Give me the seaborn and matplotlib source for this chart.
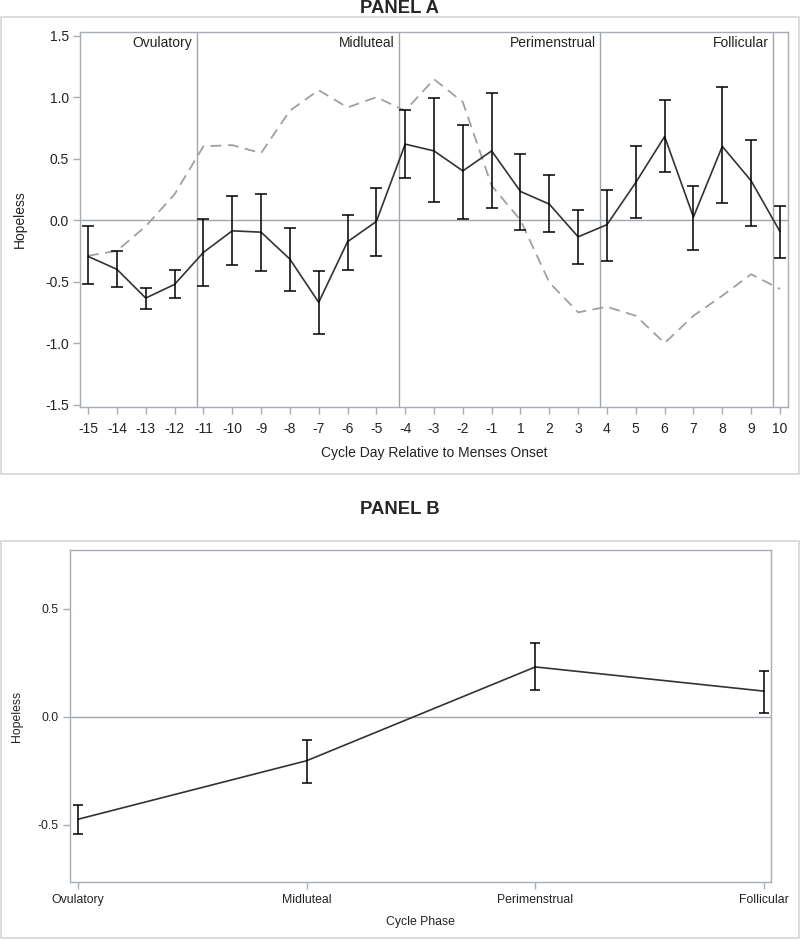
import matplotlib
matplotlib.use("Agg")
import matplotlib.pyplot as plt
import seaborn as sns
import pandas as pd
from matplotlib.patches import Rectangle

sns.set_style("white")
plt.rcParams['font.family'] = ['Liberation Sans', 'DejaVu Sans']

# ---------------- data ----------------
days = [-15, -14, -13, -12, -11, -10, -9, -8, -7, -6, -5, -4, -3, -2, -1,
        1, 2, 3, 4, 5, 6, 7, 8, 9, 10]
mean_a = [-0.295, -0.40, -0.634, -0.523, -0.263, -0.087, -0.098, -0.317, -0.669, -0.176, -0.011,
          0.618, 0.563, 0.40, 0.563, 0.233, 0.13, -0.136, -0.037, 0.306, 0.68, 0.025, 0.60, 0.32, -0.092]
upper_a = [-0.05, -0.255, -0.555, -0.407, 0.008, 0.193, 0.211, -0.065, -0.417, 0.043, 0.26,
           0.894, 0.992, 0.77, 1.03, 0.537, 0.366, 0.084, 0.246, 0.599, 0.976, 0.276, 1.079, 0.653, 0.114]
lower_a = [-0.52, -0.54, -0.726, -0.637, -0.534, -0.368, -0.417, -0.58, -0.93, -0.407, -0.293,
           0.339, 0.144, 0.008, 0.095, -0.079, -0.098, -0.358, -0.33, 0.016, 0.393, -0.244, 0.136, -0.049, -0.311]
dashed_a = [-0.29, -0.25, -0.05, 0.21, 0.60, 0.61, 0.545, 0.89, 1.057, 0.916, 1.0,
            0.89, 1.146, 0.96, 0.28, 0.0, -0.507, -0.75, -0.705, -0.778, -1.0, -0.778, -0.615, -0.44, -0.56]
phase_names = ["Ovulatory", "Midluteal", "Perimenstrual", "Follicular"]
phase_start_days = [-11, -4, 4, 10]   # vertical separators drawn just before these days

phases_b = ["Ovulatory", "Midluteal", "Perimenstrual", "Follicular"]
mean_b = [-0.474, -0.203, 0.231, 0.119]
upper_b = [-0.409, -0.108, 0.343, 0.214]
lower_b = [-0.543, -0.308, 0.125, 0.020]

# ---------------- figure ----------------
fig = plt.figure(figsize=(8, 9.4), dpi=100)
W, H = 800, 940

def fbox(x0, y0, x1, y1):
    return [x0 / W, 1 - y1 / H, (x1 - x0) / W, (y1 - y0) / H]

spine_col = "#a7adb4"
ref_col = "#a0a6ad"
border_col = "#d6d6d6"

# outer borders
for (x0, y0, x1, y1) in [(1, 17, 799, 474), (1, 541, 799, 938)]:
    fig.patches.append(Rectangle((x0 / W, 1 - y1 / H), (x1 - x0) / W, (y1 - y0) / H,
                                 transform=fig.transFigure, fill=False,
                                 edgecolor=border_col, linewidth=1.2))

# ---------------- Panel A ----------------
axA = fig.add_axes(fbox(80, 32, 788, 407))
dfA = pd.DataFrame({"pos": range(len(days)), "mean": mean_a, "dash": dashed_a,
                    "lo": lower_a, "hi": upper_a})

for d in phase_start_days:
    axA.axvline(days.index(d) - 0.23, color=ref_col, lw=1.0, zorder=1)
axA.axhline(0, color=ref_col, lw=1.0, zorder=1)

sns.lineplot(data=dfA, x="pos", y="dash", ax=axA, color="#a0a0a0", lw=1.3,
             dashes=(6, 3.6), zorder=2)
sns.lineplot(data=dfA, x="pos", y="mean", ax=axA, color="#333333", lw=1.2, zorder=3)
axA.errorbar(dfA["pos"], dfA["mean"],
             yerr=[dfA["mean"] - dfA["lo"], dfA["hi"] - dfA["mean"]],
             fmt="none", ecolor="black", elinewidth=1.1, capsize=4.5, capthick=1.1, zorder=4)

for name, d in zip(phase_names, phase_start_days):
    axA.text(days.index(d) - 0.38, 1.44, name, ha="right", va="center", fontsize=10, color="#222222")

axA.set_xlim(-0.28, 24.28)
axA.set_ylim(-1.52, 1.53)
axA.set_xticks(range(len(days)))
axA.set_xticklabels([str(d) for d in days])
axA.set_yticks([-1.5, -1.0, -0.5, 0.0, 0.5, 1.0, 1.5])
axA.set_yticklabels(["-1.5", "-1.0", "-0.5", "0.0", "0.5", "1.0", "1.5"])
axA.set_xlabel("Cycle Day Relative to Menses Onset", fontsize=10, color="#222222")
axA.set_ylabel("Hopeless", fontsize=10, color="#222222")
axA.xaxis.set_label_coords(0.5, -0.123)
axA.xaxis.label.set_va("center")
axA.yaxis.set_label_coords(-0.085, 0.5)
axA.yaxis.label.set_va("center")

# ---------------- Panel B ----------------
axB = fig.add_axes(fbox(70, 550, 771, 882))
dfB = pd.DataFrame({"pos": range(len(phases_b)), "mean": mean_b, "lo": lower_b, "hi": upper_b})
axB.axhline(0, color=ref_col, lw=1.0, zorder=1)
sns.lineplot(data=dfB, x="pos", y="mean", ax=axB, color="#333333", lw=1.2, zorder=3)
axB.errorbar(dfB["pos"], dfB["mean"],
             yerr=[dfB["mean"] - dfB["lo"], dfB["hi"] - dfB["mean"]],
             fmt="none", ecolor="black", elinewidth=1.1, capsize=3.8, capthick=1.1, zorder=4)
axB.set_xlim(-0.034, 3.03)
axB.set_ylim(-0.764, 0.772)
axB.set_xticks(range(len(phases_b)))
axB.set_xticklabels(phases_b)
axB.set_yticks([-0.5, 0.0, 0.5])
axB.set_yticklabels(["-0.5", "0.0", "0.5"])
axB.set_xlabel("Cycle Phase", fontsize=8.8, color="#222222")
axB.set_ylabel("Hopeless", fontsize=8.8, color="#222222")
axB.xaxis.set_label_coords(0.5, -0.12)
axB.xaxis.label.set_va("center")
axB.yaxis.set_label_coords(-0.076, 0.5)
axB.yaxis.label.set_va("center")

for ax, fs, xpad in [(axA, 10, 6), (axB, 8.8, 3.5)]:
    for s in ax.spines.values():
        s.set_color(spine_col)
        s.set_linewidth(1.0)
    ax.tick_params(axis="both", which="both", direction="out", length=5, width=1.0,
                   color=spine_col, labelsize=fs, labelcolor="#222222", pad=3,
                   left=True, bottom=True)
    ax.tick_params(axis="x", pad=xpad)

fig.text(0.5, 1 - 13 / H, "PANEL A", ha="center", va="baseline", fontsize=13.3, fontweight="bold")
fig.text(0.5, 1 - 514.3 / H, "PANEL B", ha="center", va="baseline", fontsize=13.3, fontweight="bold")

fig.savefig("out.png", dpi=100)
